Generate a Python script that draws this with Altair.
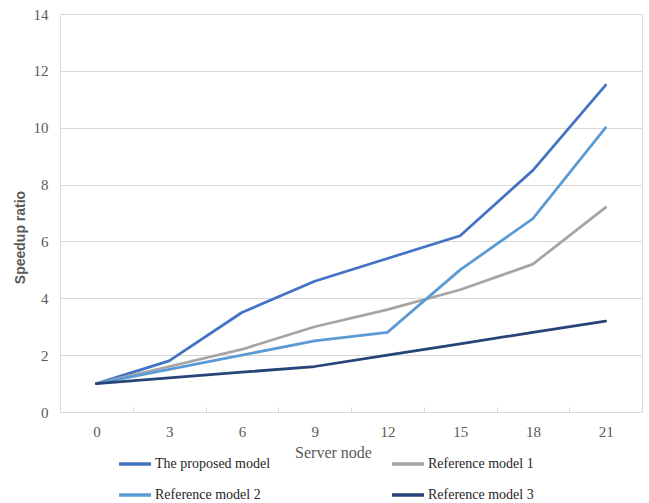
import altair as alt
import pandas as pd

# Server node counts on the x axis
nodes = ["0", "3", "6", "9", "12", "15", "18", "21"]

# Speedup ratio of each model at each node count
proposed = [1.0, 1.8, 3.5, 4.6, 5.4, 6.2, 8.5, 11.5]
reference_1 = [1.0, 1.6, 2.2, 3.0, 3.6, 4.3, 5.2, 7.2]
reference_2 = [1.0, 1.5, 2.0, 2.5, 2.8, 5.0, 6.8, 10.0]
reference_3 = [1.0, 1.2, 1.4, 1.6, 2.0, 2.4, 2.8, 3.2]

series_names = ["The proposed model", "Reference model 1", "Reference model 2", "Reference model 3"]
series_colors = ["#4472C4", "#A5A5A5", "#5B9BD5", "#264478"]
series_values = [proposed, reference_1, reference_2, reference_3]

# The legend fills its two columns top to bottom, so list the entries
# column by column to read row-wise as proposed / ref 1, ref 2 / ref 3.
legend_order = [series_names[0], series_names[2], series_names[1], series_names[3]]
legend_colors = [series_colors[0], series_colors[2], series_colors[1], series_colors[3]]

rows = []
for name, values in zip(series_names, series_values):
    for node, v in zip(nodes, values):
        rows.append({"node": node, "ratio": v, "model": name})
df = pd.DataFrame(rows)

FONT = "Liberation Serif"
GRID = "#D9D9D9"
TEXT = "#595959"

chart = alt.Chart(df).mark_line(strokeWidth=2.75, strokeJoin="round", strokeCap="round").encode(
    x=alt.X(
        "node:O",
        sort=nodes,
        bandPosition=0.5,
        scale=alt.Scale(type="band", paddingInner=0, paddingOuter=0),
        axis=alt.Axis(
            title="Server node",
            labelAngle=0,
            labelFont=FONT,
            labelFontSize=15,
            labelColor=TEXT,
            labelPadding=17,
            tickBand="extent",
            tickColor=GRID,
            tickSize={"expr": "-5"},
            domainColor=GRID,
            domainWidth=1,
            titleFont=FONT,
            titleFontSize=16,
            titleFontWeight="normal",
            titleColor=TEXT,
            titleX=273,
            titleY=40,
            titleBaseline="middle",
        ),
    ),
    y=alt.Y(
        "ratio:Q",
        scale=alt.Scale(domain=[0, 14], nice=False),
        axis=alt.Axis(
            title="Speedup ratio",
            values=[0, 2, 4, 6, 8, 10, 12, 14],
            labelFont=FONT,
            labelFontSize=15,
            labelColor=TEXT,
            labelPadding=12,
            ticks=False,
            domain=False,
            grid=True,
            gridColor=GRID,
            gridWidth=1,
            titleFont="Liberation Sans",
            titleFontSize=14,
            titleFontWeight="bold",
            titleColor=TEXT,
            titleX=-40,
            titleY=223,
            titleAngle=270,
            titleBaseline="middle",
            titleAlign="center",
        ),
    ),
    color=alt.Color(
        "model:N",
        sort=legend_order,
        scale=alt.Scale(domain=legend_order, range=legend_colors),
        legend=alt.Legend(
            title=None,
            orient="none",
            legendX=57,
            legendY=432,
            columns=2,
            columnPadding=114,
            rowPadding=6,
            padding=0,
            symbolType="stroke",
            symbolSize=1024,
            symbolStrokeWidth=3.5,
            labelFont=FONT,
            labelFontSize=14,
            labelColor="#262626",
            labelOffset=2,
        ),
    ),
).properties(
    width=582,
    height=398,
    autosize=alt.AutoSizeParams(type="none"),
    padding={"left": 60, "top": 14, "right": 7, "bottom": 91},
).configure_view(stroke=None).configure(background="white")

chart.save("out.html", embed_options={"renderer": "svg", "actions": False})
